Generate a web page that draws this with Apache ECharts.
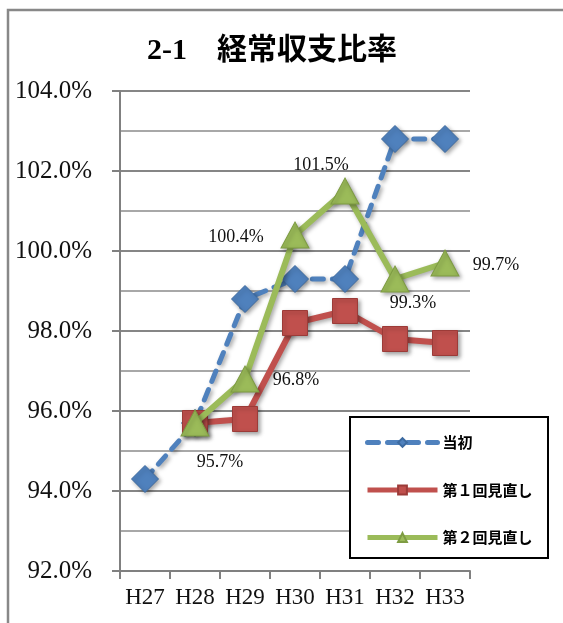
<!DOCTYPE html>
<html>
<head>
<meta charset="utf-8">
<script src="https://cdn.jsdelivr.net/npm/echarts@6/dist/echarts.min.js"></script>
<style>html,body{margin:0;padding:0;background:#fff;}#c{width:563px;height:623px;}</style>
</head>
<body>
<div id="c"></div>
<script>
const categories = ['H27','H28','H29','H30','H31','H32','H33'];
const seriesNames = ['当初','第１回見直し','第２回見直し'];
const initialPlan = [94.3, 95.7, 98.8, 99.3, 99.3, 102.8, 102.8];
const revision1 = [null, 95.7, 95.8, 98.2, 98.5, 97.8, 97.7];
const revision2 = [null, 95.7, 96.8, 100.4, 101.5, 99.3, 99.7];
const labelOffsets = [null, [25,39], [51,1], [-59,2], [-24,-26], [18,24], [51,2]];
const yMin = 92, yMax = 104, yStep = 2;

const SERIF = "'Liberation Serif', 'Noto Sans CJK JP', serif";
const shadow = {shadowColor:'rgba(0,0,0,0.35)', shadowBlur:4, shadowOffsetX:2, shadowOffsetY:2};

const chart = echarts.init(document.getElementById('c'), null, {renderer:'canvas'});
chart.setOption({
  animation:false,
  backgroundColor:'#fff',
  title:{
    text:'2-1　経常収支比率',
    left:142, top:31,
    textStyle:{fontFamily:SERIF, fontWeight:'bold', fontSize:30, color:'#000'}
  },
  graphic:[
    {type:'rect', shape:{x:8, y:10, width:700, height:800}, style:{fill:'none', stroke:'#888', lineWidth:2.5}, z:0},
    {type:'rect', shape:{x:350, y:417, width:198, height:141}, style:{fill:'#fff', stroke:'#000', lineWidth:2}, z:5}
  ],
  legend:{
    orient:'vertical', left:365, top:435, itemWidth:70, itemHeight:11, itemGap:32.5, padding:0,
    z:10,
    textStyle:{fontFamily:"'Noto Sans CJK JP', sans-serif", fontWeight:'bold', fontSize:15, color:'#000', lineHeight:11},
    data:[
      {name:seriesNames[0], lineStyle:{width:5}},
      {name:seriesNames[1], lineStyle:{width:5}},
      {name:seriesNames[2], lineStyle:{width:5}}
    ]
  },
  grid:{left:120, top:91, right:93, bottom:52, containLabel:false},
  xAxis:{
    type:'category', data:categories, boundaryGap:true,
    axisLine:{lineStyle:{color:'#808080', width:2}},
    axisTick:{show:true, length:8, inside:false, interval:0, lineStyle:{color:'#808080', width:2}},
    axisLabel:{fontFamily:SERIF, fontSize:23, color:'#111', margin:15, interval:0},
    splitLine:{show:false}
  },
  yAxis:{
    type:'value', min:yMin, max:yMax, interval:yStep,
    axisLine:{show:true, lineStyle:{color:'#808080', width:2}},
    axisTick:{show:true, length:8, lineStyle:{color:'#808080', width:2}},
    axisLabel:{fontFamily:SERIF, fontSize:25, color:'#111', margin:28, formatter:v=>v.toFixed(1)+'%'},
    splitLine:{show:true, lineStyle:{color:'#868686', width:2}},
    minorTick:{show:false, splitNumber:2},
    minorSplitLine:{show:true, lineStyle:{color:'#a8a8a8', width:2}}
  },
  series:[
    {
      name:seriesNames[0], type:'line', data:initialPlan,
      symbol:'diamond', symbolSize:27,
      lineStyle:Object.assign({color:'#4F81BD', width:5, type:[11,9], cap:'round'}, shadow),
      itemStyle:Object.assign({color:'#4F81BD', borderColor:'#3c6aa0', borderWidth:1}, shadow),
      z:2
    },
    {
      name:seriesNames[1], type:'line', data:revision1,
      symbol:'rect', symbolSize:25,
      lineStyle:Object.assign({color:'#C0504D', width:6}, shadow),
      itemStyle:Object.assign({color:'#C0504D', borderColor:'#9c3b38', borderWidth:1}, shadow),
      z:3
    },
    {
      name:seriesNames[2], type:'line', data:revision2.map((v,i)=>({
        value:v,
        label: v==null ? undefined : {show:true, position:'inside', offset:labelOffsets[i]}
      })),
      symbol:'triangle', symbolSize:[28,26],
      lineStyle:Object.assign({color:'#9BBB59', width:6}, shadow),
      itemStyle:Object.assign({color:'#9BBB59', borderColor:'#7e9c43', borderWidth:1}, shadow),
      label:{show:true, fontFamily:SERIF, fontSize:18, color:'#111', formatter:p=>p.value.toFixed(1)+'%'},
      z:4
    }
  ]
});
</script>
</body>
</html>
